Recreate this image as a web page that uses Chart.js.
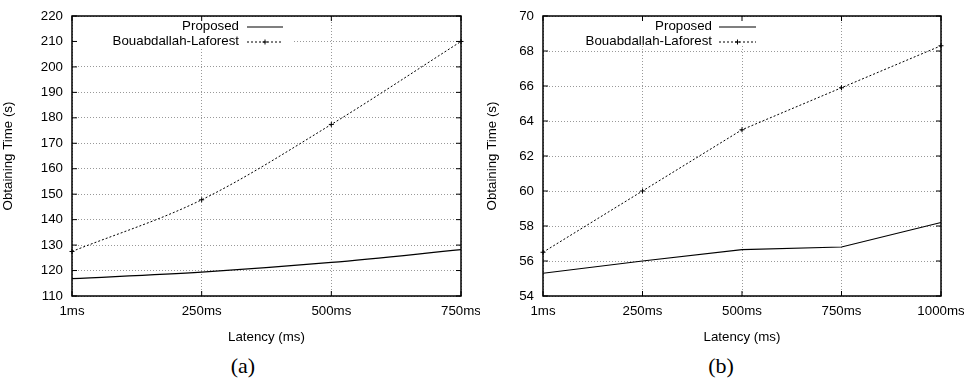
<html><head>
<meta charset="UTF-8">
<title>Obtaining Time vs Latency</title>
<script src="https://cdn.jsdelivr.net/npm/chart.js"></script>
<style>
* { margin: 0; padding: 0; box-sizing: border-box; }
body { background: #fff; width: 964px; height: 380px; overflow: hidden; position: relative; font-family: 'Liberation Sans', Arial, sans-serif; }
.panel { position: absolute; top: 0; width: 480px; height: 380px; }
.panel canvas { position: absolute; left: 0; top: 0; }
.caption { position: absolute; top: 353px; width: 100%; text-align: center; font-family: 'Liberation Serif', 'Times New Roman', serif; font-size: 22px; color: #000; }
</style>
</head>
<body>
<div class="panel" style="left:0">
  <canvas id="chartA" width="480" height="345"></canvas>
  <div class="caption" style="left:3px">(a)</div>
</div>
<div class="panel" style="left:484px">
  <canvas id="chartB" width="480" height="345"></canvas>
  <div class="caption" style="left:-3px">(b)</div>
</div>

<script>
// panel (a)
const labelsA = ['1ms', '250ms', '500ms', '750ms'];
const proposedA = [116.8, 119.4, 123.2, 128.2];
const bouabA = [127.5, 147.8, 177.4, 210.0];

// panel (b)
const labelsB = ['1ms', '250ms', '500ms', '750ms', '1000ms'];
const proposedB = [55.3, 56.0, 56.65, 56.8, 58.2];
const bouabB = [56.5, 60.0, 63.5, 65.9, 68.3];

const FONT = "'Liberation Sans', Arial, sans-serif";
const FSIZE = 13.3;

// gnuplot style frame, inward ticks and a legend with text before the sample
const gnuFrame = {
  id: 'gnuFrame',
  afterDatasetsDraw(chart, args, opts) {
    const ctx = chart.ctx;
    const a = chart.chartArea;
    const xs = chart.scales.x, ys = chart.scales.y;
    ctx.save();
    // legend box
    ctx.fillStyle = '#fff';
    ctx.fillRect(a.left + 1, a.top + 1, opts.boxRight - a.left - 1, opts.boxBottom - a.top - 1);
    // frame
    ctx.strokeStyle = '#000';
    ctx.lineWidth = 1.5;
    ctx.setLineDash([]);
    ctx.strokeRect(a.left, a.top, a.right - a.left, a.bottom - a.top);
    // inward ticks
    ctx.lineWidth = 1;
    ctx.beginPath();
    ys.ticks.forEach((t, i) => {
      const y = ys.getPixelForTick(i);
      ctx.moveTo(a.left, y); ctx.lineTo(a.left + 5, y);
      ctx.moveTo(a.right, y); ctx.lineTo(a.right - 5, y);
    });
    xs.ticks.forEach((t, i) => {
      const x = xs.getPixelForTick(i);
      ctx.moveTo(x, a.bottom); ctx.lineTo(x, a.bottom - 5);
      ctx.moveTo(x, a.top); ctx.lineTo(x, a.top + 5);
    });
    ctx.stroke();
    // legend entries
    ctx.font = FSIZE + 'px ' + FONT;
    ctx.fillStyle = '#000';
    ctx.textAlign = 'right';
    ctx.textBaseline = 'middle';
    chart.data.datasets.forEach((ds, i) => {
      const y = opts.rows[i];
      ctx.fillText(ds.label, opts.textRight, y);
      ctx.beginPath();
      ctx.lineWidth = ds.borderWidth;
      ctx.setLineDash(ds.borderDash || []);
      ctx.moveTo(opts.sampleLeft, y + 1);
      ctx.lineTo(opts.sampleRight, y + 1);
      ctx.stroke();
      if (ds.pointRadius > 0) {
        const cx = (opts.sampleLeft + opts.sampleRight) / 2;
        ctx.setLineDash([]);
        ctx.beginPath();
        ctx.moveTo(cx - 2.5, y + 1); ctx.lineTo(cx + 2.5, y + 1);
        ctx.moveTo(cx, y - 1.5); ctx.lineTo(cx, y + 3.5);
        ctx.stroke();
      }
    });
    ctx.restore();
  }
};

function makeChart(id, labels, proposed, bouab, yMin, yMax, step, smooth, legend) {
  return new Chart(document.getElementById(id), {
    type: 'line',
    data: {
      labels: labels,
      datasets: [{
        label: 'Proposed',
        data: proposed,
        borderColor: '#000',
        borderWidth: 1.2,
        pointRadius: 0,
        cubicInterpolationMode: smooth ? 'monotone' : 'default',
        tension: 0
      }, {
        label: 'Bouabdallah-Laforest',
        data: bouab,
        borderColor: '#000',
        borderWidth: 1,
        borderDash: [2, 2],
        pointStyle: 'cross',
        pointRadius: 2.5,
        pointBorderWidth: 1,
        pointBorderColor: '#000',
        cubicInterpolationMode: smooth ? 'monotone' : 'default',
        tension: 0
      }]
    },
    options: {
      responsive: false,
      animation: false,
      layout: { padding: { left: 0, right: legend.padRight, top: 16, bottom: 0 } },
      plugins: {
        legend: { display: false },
        tooltip: { enabled: false },
        gnuFrame: legend
      },
      scales: {
        x: {
          type: 'category',
          offset: false,
          grid: { color: '#999', lineWidth: 1, drawTicks: false },
          border: { display: false, dash: [1, 2] },
          ticks: { color: '#000', font: { family: FONT, size: FSIZE }, padding: 7, maxRotation: 0, autoSkip: false },
          title: { display: true, text: 'Latency (ms)', color: '#000', font: { family: FONT, size: FSIZE }, padding: { top: 3, bottom: 0 } },
          afterFit(scale) {
            scale.height = 49;
            scale.paddingLeft = 0;
            scale.paddingRight = 0;
          }
        },
        y: {
          min: yMin,
          max: yMax,
          grid: { color: '#999', lineWidth: 1, drawTicks: false },
          border: { display: false, dash: [1, 2] },
          ticks: { stepSize: step, color: '#000', font: { family: FONT, size: FSIZE }, padding: 9 },
          title: { display: true, text: 'Obtaining Time (s)', color: '#000', font: { family: FONT, size: FSIZE }, padding: { top: 0, bottom: 4 } },
          afterFit(scale) {
            scale.width = legend.yWidth;
            scale.paddingTop = 0;
            scale.paddingBottom = 0;
          }
        }
      }
    },
    plugins: [gnuFrame]
  });
}

makeChart('chartA', labelsA, proposedA, bouabA, 110, 220, 10, true,
  { yWidth: 72, padRight: 19, textRight: 239, sampleLeft: 247, sampleRight: 283, rows: [26, 41], boxRight: 292, boxBottom: 48 });
makeChart('chartB', labelsB, proposedB, bouabB, 54, 70, 2, false,
  { yWidth: 59, padRight: 23, textRight: 228, sampleLeft: 235, sampleRight: 272, rows: [26, 41], boxRight: 280, boxBottom: 46 });
</script>
</body></html>
